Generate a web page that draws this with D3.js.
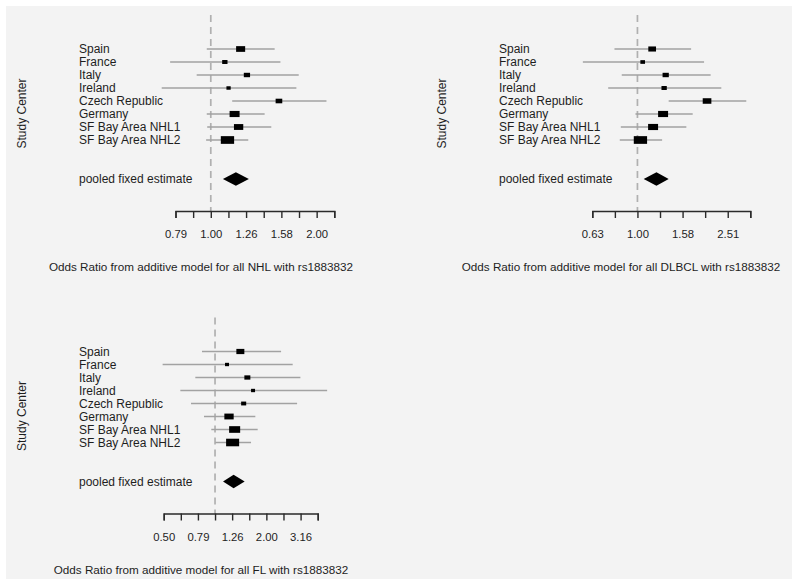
<!DOCTYPE html>
<html>
<head>
<meta charset="utf-8">
<script src="https://cdn.jsdelivr.net/npm/d3@7"></script>
<style>
  html, body { margin: 0; padding: 0; background: #ffffff; }
  text { font-family: "Liberation Sans", Arial, sans-serif; fill: #1e1e1e; }
</style>
</head>
<body>
<svg id="chart" width="800" height="586"></svg>
<script>
// ---------- data ----------
const studies = ["Spain", "France", "Italy", "Ireland", "Czech Republic", "Germany", "SF Bay Area NHL1", "SF Bay Area NHL2"];
const pooledLabel = "pooled fixed estimate";

// NHL
const nhlEst    = [1.215, 1.096, 1.266, 1.123, 1.560, 1.168, 1.199, 1.115];
const nhlLo     = [0.974, 0.767, 0.912, 0.726, 1.150, 0.974, 0.977, 0.970];
const nhlHi     = [1.517, 1.575, 1.775, 1.748, 2.127, 1.421, 1.484, 1.277];
const nhlWeight = [0.68, 0.40, 0.47, 0.32, 0.50, 0.75, 0.70, 1.00];
const nhlPooled = [1.178, 1.082, 1.282]; // est, lo, hi
const nhlTickExp = [-0.1, -0.05, 0, 0.05, 0.1, 0.15, 0.2, 0.25, 0.3, 0.35];
const nhlTickLabels = ["0.79", "", "1.00", "", "1.26", "", "1.58", "", "2.00", ""];

// DLBCL
const dlbclEst    = [1.162, 1.055, 1.334, 1.313, 2.034, 1.299, 1.173, 1.031];
const dlbclLo     = [0.791, 0.573, 0.852, 0.742, 1.375, 0.980, 0.844, 0.835];
const dlbclHi     = [1.729, 1.973, 2.110, 2.353, 3.035, 1.757, 1.647, 1.286];
const dlbclWeight = [0.58, 0.35, 0.47, 0.40, 0.65, 0.75, 0.75, 1.00];
const dlbclPooled = [1.214, 1.066, 1.375];
const dlbclTickExp = [-0.2, -0.1, 0, 0.1, 0.2, 0.3, 0.4, 0.5];
const dlbclTickLabels = ["0.63", "", "1.00", "", "1.58", "", "2.51", ""];

// FL
const flEst    = [1.406, 1.175, 1.545, 1.668, 1.470, 1.207, 1.302, 1.267];
const flLo     = [0.839, 0.494, 0.767, 0.627, 0.724, 0.862, 0.951, 1.004];
const flHi     = [2.432, 2.843, 3.154, 4.520, 3.017, 1.720, 1.775, 1.623];
const flWeight = [0.60, 0.30, 0.45, 0.30, 0.38, 0.70, 0.83, 0.98];
const flPooled = [1.284, 1.114, 1.490];
const flTickExp = [-0.3, -0.2, -0.1, 0, 0.1, 0.2, 0.3, 0.4, 0.5, 0.6];
const flTickLabels = ["0.50", "", "0.79", "", "1.26", "", "2.00", "", "3.16", ""];

const xTitles = [
  "Odds Ratio from additive model for all NHL with rs1883832",
  "Odds Ratio from additive model for all DLBCL with rs1883832",
  "Odds Ratio from additive model for all FL with rs1883832"
];

// ---------- layout ----------
const svg = d3.select("#chart");
svg.append("rect").attr("x", 6).attr("y", 6).attr("width", 786).attr("height", 573).attr("fill", "#f3f3f3");

const panels = [
  { est: nhlEst, lo: nhlLo, hi: nhlHi, w: nhlWeight, pooled: nhlPooled, tickExp: nhlTickExp, tickLabels: nhlTickLabels,
    title: xTitles[0], ox: 0, oy: 0, range: [175.5, 334.3], labelX: 79, yLabX: 22, titleX: 201 },
  { est: dlbclEst, lo: dlbclLo, hi: dlbclHi, w: dlbclWeight, pooled: dlbclPooled, tickExp: dlbclTickExp, tickLabels: dlbclTickLabels,
    title: xTitles[1], ox: 0, oy: 0, range: [592.3, 750.3], labelX: 499, yLabX: 442, titleX: 621 },
  { est: flEst, lo: flLo, hi: flHi, w: flWeight, pooled: flPooled, tickExp: flTickExp, tickLabels: flTickLabels,
    title: xTitles[2], ox: 0, oy: 302.5, range: [163.7, 317.7], labelX: 79, yLabX: 22, titleX: 201 }
];

panels.forEach(p => {
  const g = svg.append("g").attr("transform", `translate(${p.ox},${p.oy})`);
  const tickVals = p.tickExp.map(e => Math.pow(10, e));
  const x = d3.scaleLog().domain([tickVals[0], tickVals[tickVals.length - 1]]).range(p.range);
  const y = d3.scaleLinear().domain([0, 10]).range([49, 179]);
  const axisY = 211;

  // reference dashed line at OR = 1
  g.append("line")
    .attr("x1", x(1)).attr("x2", x(1))
    .attr("y1", 15).attr("y2", axisY)
    .attr("stroke", "#b0b0b0").attr("stroke-width", 1.7)
    .attr("stroke-dasharray", "7,5");

  // study labels
  g.selectAll("text.study").data(studies).join("text")
    .attr("class", "study")
    .attr("x", p.labelX).attr("y", (d, i) => y(i))
    .attr("dy", "0.36em")
    .attr("font-size", 12)
    .text(d => d);
  g.append("text")
    .attr("x", p.labelX).attr("y", y(10)).attr("dy", "0.36em")
    .attr("font-size", 12)
    .text(pooledLabel);

  // CI lines
  g.selectAll("line.ci").data(studies).join("line")
    .attr("class", "ci")
    .attr("x1", (d, i) => x(p.lo[i])).attr("x2", (d, i) => x(p.hi[i]))
    .attr("y1", (d, i) => y(i)).attr("y2", (d, i) => y(i))
    .attr("stroke", "#a2a2a2").attr("stroke-width", 1.6);

  // boxes
  g.selectAll("rect.box").data(studies).join("rect")
    .attr("class", "box")
    .attr("x", (d, i) => x(p.est[i]) - 13.3 * p.w[i] / 2)
    .attr("y", (d, i) => y(i) - (1.5 + 6.2 * p.w[i]) / 2)
    .attr("width", (d, i) => 13.3 * p.w[i])
    .attr("height", (d, i) => 1.5 + 6.2 * p.w[i])
    .attr("fill", "#000");

  // pooled diamond
  const [pe, pl, ph] = p.pooled;
  const yc = y(10);
  g.append("path")
    .attr("d", d3.line()([[x(pl), yc], [x(pe), yc - 6.8], [x(ph), yc], [x(pe), yc + 6.8]]) + "Z")
    .attr("fill", "#000");

  // axis
  const axis = d3.axisBottom(x)
    .tickValues(tickVals)
    .tickSize(7)
    .tickSizeOuter(7)
    .tickPadding(12)
    .tickFormat((d, i) => p.tickLabels[i]);
  const ag = g.append("g").attr("transform", `translate(0,${axisY})`).call(axis);
  ag.select(".domain").attr("stroke", "#2a2a2a").attr("stroke-width", 1.4);
  ag.selectAll(".tick line").attr("stroke", "#2a2a2a").attr("stroke-width", 1.4);
  ag.selectAll(".tick text")
    .attr("font-size", 11.3)
    .attr("font-family", "Liberation Sans, Arial, sans-serif")
    .attr("fill", "#2a2a2a");

  // axis title
  g.append("text")
    .attr("x", p.titleX).attr("y", 267).attr("dy", "0.36em")
    .attr("text-anchor", "middle")
    .attr("font-size", 11.7)
    .text(p.title);

  // y title
  g.append("text")
    .attr("transform", `translate(${p.yLabX},113.5) rotate(-90)`)
    .attr("dy", "0.36em")
    .attr("text-anchor", "middle")
    .attr("font-size", 12)
    .text("Study Center");
});
</script>
</body>
</html>
